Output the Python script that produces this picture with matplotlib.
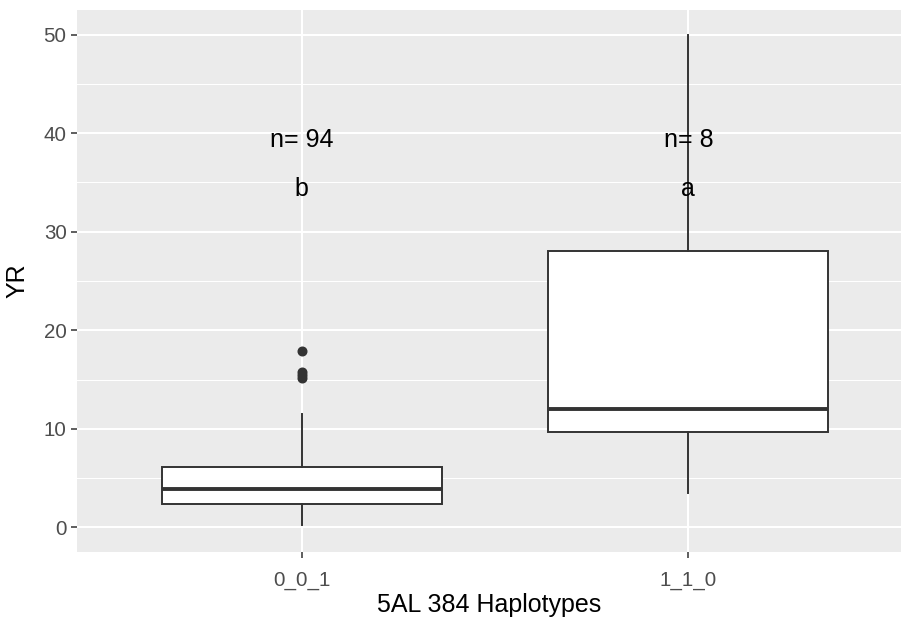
import numpy as np
import matplotlib
matplotlib.use('Agg')
import matplotlib.pyplot as plt

# haplotype groups and box stats
groups = ['0_0_1', '1_1_0']
whislo = [0.2, 3.5]
q1 = [2.35, 9.7]
med = [3.9, 12.05]
q3 = [6.15, 28.05]
whishi = [11.5, 50.0]
fliers = [[15.2, 15.5, 15.8, 17.85], []]
n_labels = ['n= 94', 'n= 8']
letters = ['b', 'a']
n_y = 40
let_y = 35

plt.rcParams['font.family'] = ['Liberation Sans', 'DejaVu Sans']

fig = plt.figure(figsize=(9.01, 6.23), dpi=100)
ax = fig.add_axes([77/901, 1 - 552/623, 824/901, 542/623])
ax.set_facecolor('#EBEBEB')
for s in ax.spines.values():
    s.set_visible(False)

pos = np.arange(1, len(groups) + 1)
stats = []
for i in range(len(groups)):
    stats.append(dict(med=med[i], q1=q1[i], q3=q3[i], whislo=whislo[i],
                      whishi=whishi[i], fliers=fliers[i], label=groups[i]))

ax.bxp(stats, positions=pos, widths=0.724, showcaps=False, patch_artist=True,
       boxprops=dict(facecolor='white', edgecolor='#333333', linewidth=1.4),
       medianprops=dict(color='#333333', linewidth=2.8, solid_capstyle='butt'),
       whiskerprops=dict(color='#333333', linewidth=1.4),
       flierprops=dict(marker='o', markerfacecolor='#333333', markeredgecolor='#333333',
                       markersize=6.2, linestyle='none'),
       zorder=3)

for i in range(len(groups)):
    ax.annotate(n_labels[i], (pos[i], n_y), xytext=(0, -3), textcoords='offset points',
                ha='center', va='center_baseline', fontsize=18, color='black', zorder=4)
    ax.annotate(letters[i], (pos[i], let_y), xytext=(0, -3), textcoords='offset points',
                ha='center', va='center_baseline', fontsize=18, color='black', zorder=4)

ax.set_xlim(0.419, 2.55)
ax.set_ylim(-2.5, 52.5)
ax.set_yticks([0, 10, 20, 30, 40, 50])
ax.set_yticks([5, 15, 25, 35, 45], minor=True)
ax.set_xticks(pos)
ax.set_xticklabels(groups)
ax.grid(True, which='major', color='white', linewidth=1.5, zorder=0)
ax.grid(True, which='minor', axis='y', color='white', linewidth=0.75, zorder=0)
ax.set_axisbelow(True)
ax.tick_params(axis='both', which='major', length=4, width=1.1, color='#333333',
               labelcolor='#4D4D4D', labelsize=14.8, pad=3.5)
ax.tick_params(axis='x', which='major', pad=9.5)
ax.tick_params(axis='y', which='minor', length=0)

ax.set_xlabel('5AL 384 Haplotypes', fontsize=18, color='black', labelpad=2.5)
ax.set_ylabel('YR', fontsize=18, color='black', labelpad=10)

fig.savefig('out.png', dpi=100)
